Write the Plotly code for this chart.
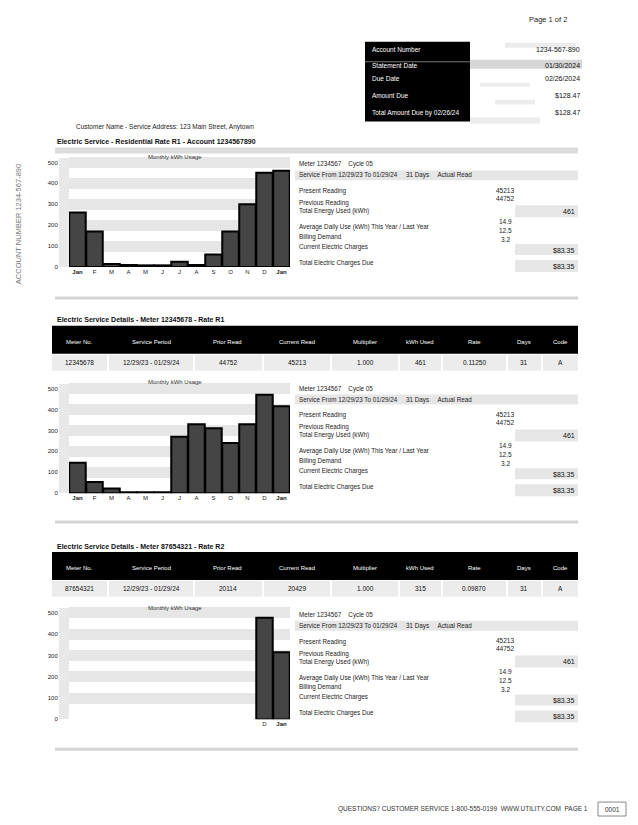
import plotly.graph_objects as go

W, H = 638, 825

# ---------------- data ----------------
months = ["Jan 23", "Feb 23", "Mar 23", "Apr 23", "May 23", "Jun 23", "Jul 23",
          "Aug 23", "Sep 23", "Oct 23", "Nov 23", "Dec 23", "Jan 24"]
month_labels = ["<b>Jan</b>", "F", "M", "A", "M", "J", "J", "A", "S", "O", "N", "D", "<b>Jan</b>"]
month_labels3 = ["", "", "", "", "", "", "", "", "", "", "", "D", "<b>Jan</b>"]
usage1 = [260, 170, 15, 10, 8, 8, 25, 10, 60, 170, 300, 450, 460]
usage2 = [146, 54, 23, 5, 5, 5, 270, 330, 310, 240, 330, 470, 415]
usage3 = [None, None, None, None, None, None, None, None, None, None, None, 477, 315]
y_ticks = [0, 100, 200, 300, 400, 500]

table_headers = ["Meter No.", "Service Period", "Prior Read", "Current Read",
                 "Multiplier", "kWh Used", "Rate", "Days", "Code"]
table_row2 = ["12345678", "12/29/23 - 01/29/24", "44752", "45213", "1.000", "461", "0.11250", "31", "A"]
table_row3 = ["87654321", "12/29/23 - 01/29/24", "20114", "20429", "1.000", "315", "0.09870", "31", "A"]


def X(px):
    return px / W


def Y(py):
    return 1 - py / H


fig = go.Figure()
series = [usage1, usage2, usage3]
for i, s in enumerate(series):
    fig.add_trace(go.Bar(
        x=months, y=s, xaxis="x" if i == 0 else f"x{i+1}", yaxis="y" if i == 0 else f"y{i+1}",
        marker=dict(color="#454545", line=dict(color="#000", width=2)),
        showlegend=False, hoverinfo="skip"))

# chart geometry: (baseline px, px per 100)
charts = [(268, 21.0), (495, 21.0), (722, 21.4)]
layout_axes = {}
for i, (base, ppu) in enumerate(charts):
    top = base - 5.2 * ppu
    sx = "" if i == 0 else str(i + 1)
    layout_axes[f"xaxis{sx}"] = dict(
        domain=[X(69), X(290)], anchor=f"y{sx}", type="category",
        tickmode="array", tickvals=months,
        ticktext=month_labels if i < 2 else month_labels3,
        tickfont=dict(size=6, color="#222", family="Liberation Sans"),
        showgrid=False, showline=False, ticks="", fixedrange=True)
    layout_axes[f"yaxis{sx}"] = dict(
        domain=[Y(base), Y(top)], anchor=f"x{sx}", range=[0, 520],
        tickmode="array", tickvals=y_ticks, ticktext=[str(v) for v in y_ticks],
        tickfont=dict(size=6, color="#222", family="Liberation Sans"),
        showgrid=True, gridcolor="#e6e6e6", gridwidth=11,
        zeroline=False, showline=True, linecolor="#e8e8e8", linewidth=10,
        ticks="", fixedrange=True)

shapes = []
ann = []


def rect(x0, y0, x1, y1, color, line=None):
    shapes.append(dict(type="rect", xref="paper", yref="paper",
                       x0=X(x0), x1=X(x1), y0=Y(y1), y1=Y(y0),
                       fillcolor=color, line=dict(width=0) if line is None else line, layer="below"))


def hline(x0, x1, y, color="#cfcfcf", w=1.5):
    shapes.append(dict(type="line", xref="paper", yref="paper",
                       x0=X(x0), x1=X(x1), y0=Y(y), y1=Y(y), line=dict(color=color, width=w)))


def vline(x, y0, y1, color="#fff", w=2):
    shapes.append(dict(type="line", xref="paper", yref="paper",
                       x0=X(x), x1=X(x), y0=Y(y0), y1=Y(y1), line=dict(color=color, width=w)))


def txt(x, y, t, size=6.5, color="#222", anchor="left", bold=False, angle=0):
    ann.append(dict(xref="paper", yref="paper", x=X(x), y=Y(y), text=f"<b>{t}</b>" if bold else t,
                    showarrow=False, xanchor=anchor, yanchor="middle", textangle=angle,
                    font=dict(size=size, color=color, family="Liberation Sans")))


# ---------- top area ----------
txt(548, 20, "Page 1 of 2", 7.5, anchor="center")
rect(365, 42, 470, 122, "#000")
hline(365, 470, 62, "#777", 1)
box_labels = ["Account Number", "Statement Date", "Due Date", "Amount Due", "Total Amount Due by 02/26/24"]
box_values = ["1234-567-890", "01/30/2024", "02/26/2024", "$128.47", "$128.47"]
box_y = [50, 66, 79, 96, 113]
for lab, val, yy in zip(box_labels, box_values, box_y):
    txt(370, yy, lab, 6.5, "#fff")
    txt(582, yy, val, 7, "#111", anchor="right")
rect(505, 43, 576, 48, "#ececec")
rect(470, 60, 582, 69, "#d6d6d6")
rect(480, 83, 530, 87, "#ececec")
rect(495, 100, 535, 105, "#ececec")
rect(470, 118, 540, 124, "#ececec")

# left vertical text
txt(18, 225, "ACCOUNT NUMBER 1234-567-890", 7.5, "#777", anchor="center", angle=-90)

# page title
txt(165, 127, "Customer Name - Service Address: 123 Main Street, Anytown", 6.5, anchor="center")

# ---------- sections ----------
section_headers = ["Electric Service - Residential Rate R1 - Account 1234567890",
                   "Electric Service Details - Meter 12345678 - Rate R1",
                   "Electric Service Details - Meter 87654321 - Rate R2"]
chart_titles = ["Monthly kWh Usage", "Monthly kWh Usage", "Monthly kWh Usage"]
offsets = [0, 225, 452]

# section 1 header
txt(55, 142, section_headers[0], 7, "#111", bold=True)
rect(55, 148, 578, 154, "#dcdcdc")

sep_x = [108, 194, 263, 331, 399, 442, 507, 542]
head_x = [80, 151, 228, 297, 365, 420, 474, 524, 560]
for si, row in [(1, table_row2), (2, table_row3)]:
    d = offsets[si] - 225
    txt(55, 321 + d, section_headers[si], 7, "#111", bold=True)
    rect(52, 327 + d, 578, 355 + d, "#000")
    for hx, h in zip(head_x, table_headers):
        txt(hx, 343 + d, h, 6, "#fff", anchor="center")
    rect(52, 356 + d, 578, 372 + d, "#ececec")
    for sx in sep_x:
        vline(sx, 356 + d, 372 + d)
    for hx, v in zip(head_x, row):
        txt(hx, 364 + d, v, 6.5, "#111", anchor="center")

for si in range(3):
    o = offsets[si]
    txt(175, 158 + o, chart_titles[si], 6, "#333", anchor="center")
    # right info block
    rect(295, 171 + o, 578, 181 + o, "#e6e6e6")
    rect(515, 206 + o, 578, 218 + o, "#e6e6e6")
    rect(515, 245 + o, 578, 256 + o, "#e6e6e6")
    rect(515, 261 + o, 578, 273 + o, "#e6e6e6")
    lines = [(165, "Meter 1234567    Cycle 05"),
             (176, "Service From 12/29/23 To 01/29/24     31 Days     Actual Read"),
             (192, "Present Reading"),
             (204, "Previous Reading"),
             (212, "Total Energy Used (kWh)"),
             (228, "Average Daily Use (kWh) This Year / Last Year"),
             (238, "Billing Demand"),
             (248, "Current Electric Charges"),
             (264, "Total Electric Charges Due")]
    for yy, t in lines:
        txt(297, yy + o, t, 6.3, "#222")
    mids = [(191, "45213"), (199, "44752"), (222, "14.9"), (231, "12.5"), (240, "3.2")]
    for yy, t in mids:
        txt(505, yy + o, t, 6.5, "#222", anchor="center")
    rights = [(212, "461"), (251, "$83.35"), (267, "$83.35")]
    for yy, t in rights:
        txt(577, yy + o, t, 7, "#111", anchor="right")
    hline(55, 578, 299 + o if si < 2 else 752, "#d4d4d4", 3)

# footer
txt(590, 812, "QUESTIONS? CUSTOMER SERVICE 1-800-555-0199  WWW.UTILITY.COM  PAGE 1", 6.5, "#333", anchor="right")
rect(598, 805, 626, 819, "#fff", line=dict(color="#888", width=1))
txt(612, 812, "0001", 6.5, "#333", anchor="center")

fig.update_layout(
    width=W, height=H, margin=dict(l=0, r=0, t=0, b=0),
    paper_bgcolor="#fff", plot_bgcolor="#fff",
    bargap=0.03, shapes=shapes, annotations=ann, showlegend=False,
    **layout_axes)

fig.write_html("out.html")
